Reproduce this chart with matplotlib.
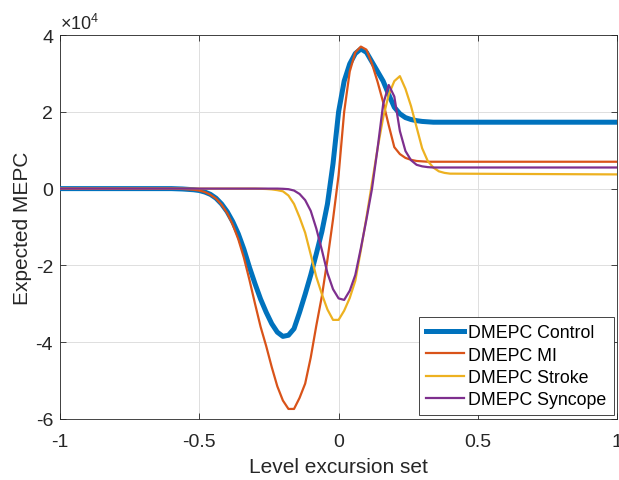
import numpy as np
import matplotlib
matplotlib.use("Agg")
import matplotlib.pyplot as plt

plt.rcParams['font.family'] = ['Liberation Sans', 'DejaVu Sans']
plt.rcParams['axes.unicode_minus'] = False
plt.rcParams['mathtext.default'] = 'regular'

# level excursion set (x) and expected MEPC in units of 1e4
x = [-1.0, -0.60, -0.58, -0.56, -0.54, -0.52, -0.50, -0.48, -0.46, -0.44,
     -0.42, -0.40, -0.38, -0.36, -0.34, -0.32, -0.30, -0.28, -0.26, -0.24,
     -0.22, -0.20, -0.18, -0.16, -0.14, -0.12, -0.10, -0.08, -0.06, -0.04,
     -0.02, 0.00, 0.02, 0.04, 0.06, 0.08, 0.10, 0.12, 0.14, 0.16,
     0.18, 0.20, 0.22, 0.24, 0.26, 0.28, 0.30, 0.32, 0.34, 0.36,
     0.38, 0.40, 1.0]

control = [0.0, 0.0, -0.005, -0.01, -0.02, -0.03, -0.05, -0.09, -0.15, -0.25,
           -0.40, -0.60, -0.86, -1.18, -1.58, -2.05, -2.48, -2.88, -3.22, -3.52,
           -3.74, -3.85, -3.82, -3.65, -3.22, -2.75, -2.25, -1.70, -1.12, -0.40,
           0.65, 2.00, 2.80, 3.25, 3.52, 3.64, 3.55, 3.30, 3.05, 2.80,
           2.45, 2.12, 1.95, 1.85, 1.80, 1.77, 1.75, 1.74, 1.73, 1.73,
           1.73, 1.73, 1.73]

mi = [0.0, 0.0, -0.005, -0.01, -0.02, -0.03, -0.05, -0.09, -0.16, -0.26,
      -0.42, -0.64, -0.94, -1.32, -1.80, -2.38, -3.00, -3.60, -4.10, -4.65,
      -5.15, -5.52, -5.74, -5.74, -5.45, -5.08, -4.40, -3.57, -2.80, -1.85,
      -0.80, 0.35, 2.00, 3.05, 3.55, 3.70, 3.62, 3.25, 2.78, 2.25,
      1.65, 1.08, 0.90, 0.80, 0.75, 0.72, 0.71, 0.70, 0.70, 0.70,
      0.70, 0.70, 0.70]

stroke = [0.0, 0.0, 0.0, 0.0, 0.0, 0.0, 0.0, 0.0, 0.0, 0.0,
          0.0, 0.0, 0.0, 0.0, 0.0, 0.0, 0.0, -0.005, -0.01, -0.02,
          -0.04, -0.07, -0.18, -0.40, -0.75, -1.15, -1.72, -2.30, -2.75, -3.15,
          -3.42, -3.42, -3.18, -2.85, -2.40, -1.60, -0.75, 0.15, 1.05, 1.85,
          2.45, 2.80, 2.93, 2.60, 2.15, 1.60, 1.05, 0.72, 0.55, 0.45,
          0.41, 0.39, 0.37]

syncope = [0.0, 0.0, 0.0, 0.0, 0.0, 0.0, 0.0, 0.0, 0.0, 0.0,
           0.0, 0.0, 0.0, 0.0, 0.0, 0.0, 0.0, 0.0, 0.0, 0.0,
           0.0, -0.005, -0.015, -0.05, -0.14, -0.30, -0.58, -1.04, -1.60, -2.20,
           -2.62, -2.86, -2.90, -2.66, -2.25, -1.55, -0.80, 0.00, 1.05, 2.20,
           2.70, 2.40, 1.50, 0.98, 0.74, 0.62, 0.58, 0.56, 0.55, 0.55,
           0.55, 0.55, 0.55]

xticks = [-1, -0.5, 0, 0.5, 1]
xticklabels = ['-1', '-0.5', '0', '0.5', '1']
yticks = [-6, -4, -2, 0, 2, 4]
yticklabels = ['-6', '-4', '-2', '0', '2', '4']

fig = plt.figure(figsize=(6.19, 4.81), dpi=100)
ax = fig.add_axes([0.097, 0.127, 0.900, 0.798])

ax.plot(x, control, color='#0072BD', lw=3.6, label='DMEPC Control', zorder=3)
ax.plot(x, mi, color='#D95319', lw=1.6, label='DMEPC MI', zorder=4)
ax.plot(x, stroke, color='#EDB120', lw=1.6, label='DMEPC Stroke', zorder=4)
ax.plot(x, syncope, color='#7E2F8E', lw=1.6, label='DMEPC Syncope', zorder=4)

ax.set_xlim(-1, 1)
ax.set_ylim(-6, 4)
ax.set_xticks(xticks)
ax.set_xticklabels(xticklabels)
ax.set_yticks(yticks)
ax.set_yticklabels(yticklabels)

dark = '#262626'
ax.grid(True, color='#dfdfdf', lw=0.7)
ax.set_axisbelow(True)
ax.tick_params(direction='in', length=4, width=0.6, top=True, right=True,
               labelsize=14, colors=dark)
ax.tick_params(axis='x', pad=10)
ax.tick_params(axis='y', pad=5)
for s in ax.spines.values():
    s.set_color(dark)
    s.set_linewidth(0.6)

ax.set_xlabel('Level excursion set', fontsize=15, color=dark, labelpad=5)
ax.set_ylabel('Expected MEPC', fontsize=15, color=dark, labelpad=2.5)
ax.text(0.0, 1.005, r'$\times10^{4}$', transform=ax.transAxes,
        fontsize=13, color=dark, ha='left', va='bottom')

leg = ax.legend(loc='lower right', fontsize=12.8, frameon=True, fancybox=False,
                edgecolor=dark, framealpha=1, borderaxespad=0.2,
                handlelength=2.1, handletextpad=0.25, labelspacing=0.3,
                borderpad=0.4)
leg.get_frame().set_linewidth(0.6)

fig.savefig('out.png', dpi=100)
